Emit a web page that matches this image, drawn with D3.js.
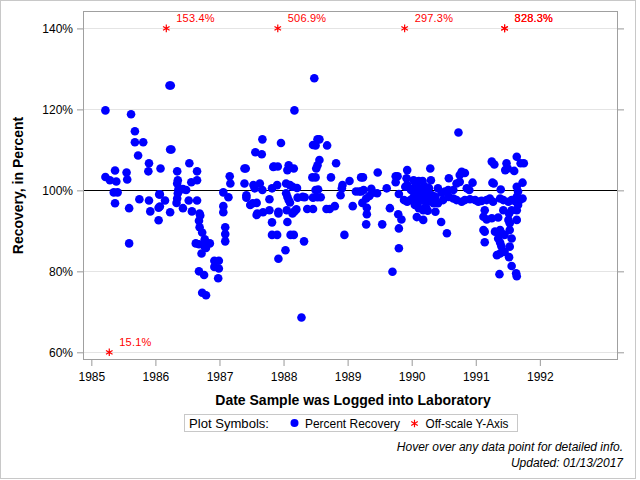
<!DOCTYPE html>
<html>
<head>
<meta charset="utf-8">
<script src="https://cdn.jsdelivr.net/npm/d3@7"></script>
<style>
  body { margin: 0; background: #fff; }
  text { font-family: "Liberation Sans", Arial, sans-serif; }
</style>
</head>
<body>
<svg id="chart" width="640" height="480"></svg>
<script>
// recovery (%) by sample date (decimal year), grouped per year
const pts1985 = [[1985.22,119.75],[1985.62,118.8],[1985.68,114.6],[1985.68,111.9],[1985.81,111.9],[1985.73,108.6],
  [1985.90,106.7],[1985.89,104.7],[1985.37,104.9],[1985.55,104.4],[1985.56,102.7],[1985.22,103.3],[1985.29,102.5],
  [1985.39,102.2],[1985.35,99.5],[1985.41,99.5],[1985.37,96.8],[1985.59,95.6],[1985.59,86.9],[1985.75,97.8],
  [1985.90,97.5],[1985.92,94.8]];
const pts1986 = [[1986.22,125.9],[1986.24,125.9],[1986.23,110.1],[1986.25,110.1],[1986.08,105.4],[1986.34,104.7],
  [1986.05,95.7],[1986.07,96.0],[1986.05,92.6],[1986.07,99.0],[1986.06,99.0],[1986.15,97.5],[1986.23,94.6],
  [1986.35,102.5],[1986.34,101.7],[1986.36,100.3],[1986.43,100.3],[1986.35,99.3],[1986.34,98.0],[1986.33,96.9],
  [1986.43,95.6],[1986.53,106.7],[1986.65,104.7],[1986.56,102.0],[1986.65,102.5],[1986.48,100.1],[1986.52,97.5],
  [1986.65,97.5],[1986.57,94.8],[1986.69,94.3],[1986.70,93.8],[1986.68,92.5],[1986.69,90.9],[1986.73,89.6],
  [1986.77,87.9],[1986.80,86.9],[1986.85,86.9],[1986.63,86.9],[1986.68,86.7],[1986.77,86.1],[1986.79,85.8],
  [1986.72,84.4],[1986.68,80.0],[1986.76,79.1],[1986.73,74.7],[1986.79,74.1],[1986.92,82.6],[1986.99,82.6],
  [1986.92,81.1],[1986.99,80.7],[1986.98,78.3]];
const pts1987 = [[1987.06,99.5],[1987.14,98.3],[1987.16,103.5],[1987.17,101.7],[1987.06,96.1],[1987.06,94.6],
  [1987.09,90.9],[1987.09,89.2],[1987.09,87.4],[1987.39,105.4],[1987.41,105.4],[1987.39,101.7],[1987.42,98.8],
  [1987.42,98.2],[1987.48,96.4],[1987.52,96.8],[1987.58,96.9],[1987.53,101.3],[1987.55,100.5],[1987.63,101.7],
  [1987.67,100.1],[1987.56,109.4],[1987.66,108.9],[1987.67,112.6],[1987.58,93.9],[1987.59,94.3],[1987.68,94.6],
  [1987.78,97.8],[1987.78,95.1],[1987.84,105.8],[1987.82,100.5],[1987.82,92.1],[1987.82,89.0],[1987.85,105.9],
  [1987.91,105.9],[1987.96,111.7],[1987.90,101.3],[1987.92,94.7],[1987.92,94.3],[1987.90,89.0],[1987.92,83.1]];
const pts1988 = [[1988.48,127.7],[1988.17,119.75],[1988.53,112.6],[1988.56,112.6],[1988.46,111.2],[1988.50,111.1],
  [1988.68,111.1],[1988.08,106.2],[1988.06,105.0],[1988.16,105.4],[1988.56,107.5],[1988.53,106.2],[1988.51,105.4],
  [1988.82,106.7],[1988.74,103.2],[1988.45,103.2],[1988.50,103.2],[1988.04,101.7],[1988.10,101.3],[1988.14,100.9],
  [1988.21,100.6],[1988.04,99.3],[1988.06,98.4],[1988.08,97.6],[1988.10,97.0],[1988.22,98.2],[1988.30,98.4],
  [1988.33,98.3],[1988.50,100.1],[1988.54,100.2],[1988.46,98.2],[1988.53,98.3],[1988.58,98.3],[1988.37,95.4],
  [1988.46,95.4],[1988.67,95.4],[1988.72,95.4],[1988.80,96.1],[1988.91,100.5],[1988.89,98.8],[1988.92,101.3],
  [1988.05,95.1],[1988.14,94.3],[1988.17,94.8],[1988.20,95.3],[1988.06,92.2],[1988.11,89.0],[1988.16,89.0],
  [1988.32,87.4],[1988.03,85.2],[1988.28,68.6],[1988.95,89.0]];
const pts1989 = [[1989.03,102.3],[1989.21,103.2],[1989.21,99.7],[1989.08,96.1],[1989.24,103.2],[1989.47,104.4],
  [1989.29,91.6],[1989.54,91.6],[1989.70,79.9],[1989.80,85.7],[1989.80,90.6],[1989.75,103.5],[1989.78,103.5],
  [1989.75,102.0],[1989.66,95.6],[1989.79,94.1],[1989.84,92.8],[1989.30,95.7],[1989.30,94.1],[1989.23,96.9],
  [1989.29,98.0],[1989.34,98.6],[1989.39,99.4],[1989.46,99.3],[1989.13,99.7],[1989.18,99.7],[1989.25,100.1],
  [1989.37,100.4],[1989.61,100.5],[1989.80,99.1],[1989.93,105.0],[1989.92,103.0],[1989.90,100.9],[1989.93,101.3],
  [1989.88,97.6],[1989.93,97.2],[1989.99,100.1],[1989.98,97.6]];
const pts1990 = [[1990.29,105.4],[1990.03,102.5],[1990.11,102.3],[1990.17,102.3],[1990.30,102.5],[1990.05,100.9],
  [1990.11,100.5],[1990.16,100.1],[1990.21,99.7],[1990.26,99.3],[1990.32,98.8],[1990.13,98.4],[1990.18,97.6],
  [1990.24,97.2],[1990.29,98.0],[1990.37,98.4],[1990.41,100.5],[1990.47,99.4],[1990.52,99.7],[1990.57,100.1],
  [1990.58,98.4],[1990.05,96.4],[1990.11,95.6],[1990.18,95.1],[1990.18,92.7],[1990.25,95.0],[1990.37,94.7],
  [1990.46,92.2],[1990.55,89.4],[1990.58,103.0],[1990.08,93.4],[1990.03,98.4],[1990.08,99.3],[1990.24,98.8],
  [1990.34,96.8],[1990.41,96.8],[1990.49,97.6],[1990.14,99.6],[1990.20,101.0],[1990.27,100.6],[1990.10,97.0],
  [1990.22,96.0],[1990.73,114.3],[1990.78,104.6],[1990.83,104.3],[1990.75,103.8],[1990.70,101.7],[1990.75,102.1],
  [1990.95,101.9],[1990.65,100.1],[1990.86,100.5],[1990.90,100.1],[1990.65,98.0],[1990.70,97.6],[1990.78,97.2],
  [1990.83,97.6],[1990.91,97.8],[1990.99,97.6]];
const pts1991 = [[1991.04,97.2],[1991.09,97.4],[1991.17,97.6],[1991.22,98.0],[1991.27,97.2],[1991.38,98.0],
  [1991.43,97.6],[1991.51,97.2],[1991.56,97.6],[1991.61,97.4],[1991.69,97.6],[1991.73,98.0],[1991.25,107.1],
  [1991.29,106.4],[1991.48,106.7],[1991.50,105.4],[1991.46,105.0],[1991.64,108.3],[1991.70,106.7],[1991.75,106.7],
  [1991.60,104.8],[1991.26,101.9],[1991.28,101.7],[1991.39,100.2],[1991.73,101.9],[1991.64,100.9],[1991.66,99.7],
  [1991.64,98.4],[1991.14,95.1],[1991.12,93.5],[1991.17,92.8],[1991.25,93.1],[1991.35,93.3],[1991.43,95.1],
  [1991.52,94.3],[1991.56,95.1],[1991.64,95.1],[1991.66,96.4],[1991.51,92.7],[1991.53,91.9],[1991.64,92.7],
  [1991.12,90.2],[1991.14,89.8],[1991.14,87.2],[1991.30,89.8],[1991.38,90.2],[1991.40,89.4],[1991.45,89.0],
  [1991.53,90.2],[1991.35,88.1],[1991.38,87.1],[1991.40,86.2],[1991.56,88.1],[1991.53,86.1],[1991.33,84.0],
  [1991.38,84.4],[1991.45,84.8],[1991.52,83.5],[1991.56,81.3],[1991.37,79.3],[1991.63,79.5],[1991.64,78.8]];

// samples whose recovery falls outside the y axis
const offDates = [1986.17, 1987.91, 1989.89, 1991.45, 1991.45, 1985.28];
const offValues = [153.4, 506.9, 297.3, 328.3, 828.3, 15.1];

const yearTicks = [1985, 1986, 1987, 1988, 1989, 1990, 1991, 1992];
const pctTicks = [60, 80, 100, 120, 140];

const points = [].concat(pts1985, pts1986, pts1987, pts1988, pts1989, pts1990, pts1991);
const offscale = offDates.map((d, i) => ({date: d, value: offValues[i]}));

const svg = d3.select("#chart");
const pLeft = 83, pRight = 618, pTop = 11, pBottom = 360;

const x = d3.scaleLinear().domain([1984.87, 1993.22]).range([pLeft, pRight]);
const y = d3.scaleLinear().domain([58.1, 144.3]).range([pBottom, pTop]);

// outer border
svg.append("rect").attr("x", 0.5).attr("y", 0.5).attr("width", 635).attr("height", 478)
  .attr("fill", "none").attr("stroke", "#c8c8c8");

// grid
svg.append("g").selectAll("line").data(pctTicks).enter().append("line")
  .attr("x1", pLeft).attr("x2", pRight)
  .attr("y1", d => Math.round(y(d)) + 0.5).attr("y2", d => Math.round(y(d)) + 0.5)
  .attr("stroke", "#e4e4e4");

// reference line at 100%
svg.append("line").attr("x1", pLeft).attr("x2", pRight)
  .attr("y1", Math.round(y(100)) + 0.5).attr("y2", Math.round(y(100)) + 0.5)
  .attr("stroke", "#000");

// axes
const yAxis = svg.append("g").attr("transform", `translate(${pLeft},0)`)
  .call(d3.axisLeft(y).tickValues(pctTicks).tickSize(6).tickPadding(4).tickFormat(d => d + "%"));
const yAxisR = svg.append("g").attr("transform", `translate(${pRight},0)`)
  .call(d3.axisRight(y).tickValues(pctTicks).tickSize(6).tickFormat(""));
const xAxis = svg.append("g").attr("transform", `translate(0,${pBottom})`)
  .call(d3.axisBottom(x).tickValues(yearTicks).tickSize(6).tickPadding(6).tickFormat(d3.format("d")));

[yAxis, yAxisR, xAxis].forEach(a => {
  a.select(".domain").remove();
  a.selectAll(".tick line").attr("stroke", "#999");
  a.selectAll("text").attr("font-size", 12).attr("fill", "#000")
    .attr("font-family", "'Liberation Sans', Arial, sans-serif");
});

// frame
svg.append("rect").attr("x", pLeft + 0.5).attr("y", pTop + 0.5)
  .attr("width", pRight - pLeft - 1).attr("height", pBottom - pTop - 1)
  .attr("fill", "none").attr("stroke", "#a0a0a0");

// points
svg.append("g").selectAll("circle").data(points).enter().append("circle")
  .attr("cx", d => x(d[0])).attr("cy", d => y(d[1])).attr("r", 4.3)
  .attr("fill", "#0000ff");

// off-scale markers
const star = d3.symbol().type(d3.symbolAsterisk).size(40);
const clampY = v => v > 140 ? 140 : (v < 60 ? 60 : v);
const off = svg.append("g");
off.selectAll("path").data(offscale).enter().append("path")
  .attr("d", star)
  .attr("transform", d => `translate(${x(d.date)},${y(clampY(d.value))})`)
  .attr("fill", "none").attr("stroke", "#ff0000").attr("stroke-width", 1.2);
off.selectAll("text").data(offscale).enter().append("text")
  .attr("x", d => x(d.date) + 10).attr("y", d => y(clampY(d.value)) - 6)
  .attr("font-size", 11).attr("fill", "#ff0000").attr("letter-spacing", 0.2)
  .text(d => d.value.toFixed(1) + "%");

// axis titles
svg.append("text").attr("x", 353).attr("y", 405).attr("text-anchor", "middle")
  .attr("font-size", 14).attr("font-weight", "bold").text("Date Sample was Logged into Laboratory");
svg.append("text").attr("transform", `translate(23,${(pTop + pBottom) / 2}) rotate(-90)`)
  .attr("text-anchor", "middle").attr("font-size", 14).attr("font-weight", "bold")
  .text("Recovery, in Percent");

// legend
const lg = svg.append("g");
lg.append("rect").attr("x", 184.5).attr("y", 414.5).attr("width", 333).attr("height", 17)
  .attr("fill", "none").attr("stroke", "#c8c8c8");
lg.append("text").attr("x", 189).attr("y", 427.5).attr("font-size", 13)
  .attr("textLength", 80).attr("lengthAdjust", "spacingAndGlyphs").text("Plot Symbols:");
lg.append("circle").attr("cx", 294.5).attr("cy", 423).attr("r", 4).attr("fill", "#0000ff");
lg.append("text").attr("x", 305).attr("y", 427.5).attr("font-size", 13)
  .attr("textLength", 95).attr("lengthAdjust", "spacingAndGlyphs").text("Percent Recovery");
lg.append("path").attr("d", star).attr("transform", "translate(414.5,423.5)")
  .attr("fill", "none").attr("stroke", "#ff0000").attr("stroke-width", 1.2);
lg.append("text").attr("x", 425.5).attr("y", 427.5).attr("font-size", 13)
  .attr("textLength", 83).attr("lengthAdjust", "spacingAndGlyphs").text("Off-scale Y-Axis");

// footnotes
svg.append("text").attr("x", 623).attr("y", 451).attr("text-anchor", "end")
  .attr("font-size", 12).attr("font-style", "italic").text("Hover over any data point for detailed info.");
svg.append("text").attr("x", 623).attr("y", 467).attr("text-anchor", "end")
  .attr("font-size", 12).attr("font-style", "italic").text("Updated: 01/13/2017");
</script>
</body>
</html>
